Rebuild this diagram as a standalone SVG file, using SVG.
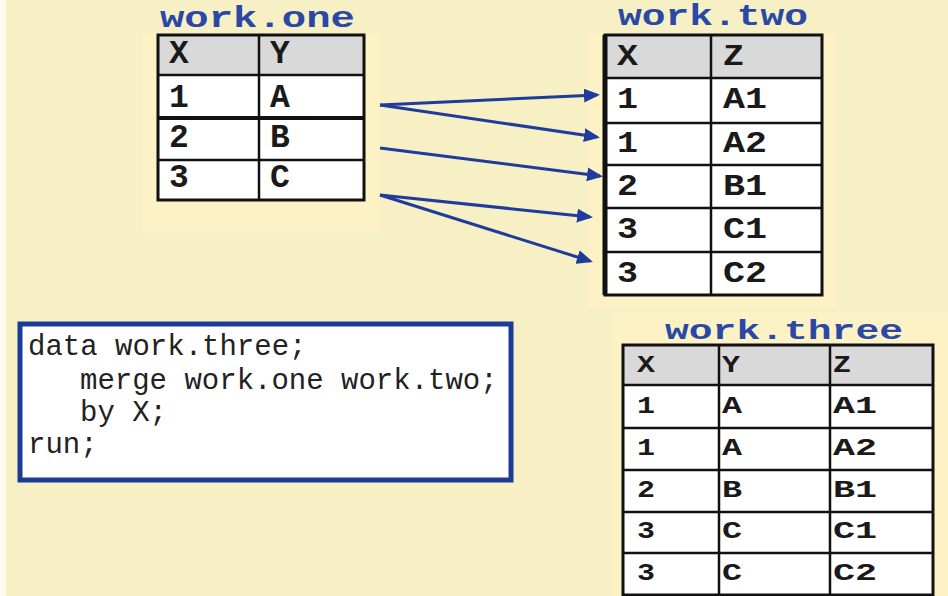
<svg xmlns="http://www.w3.org/2000/svg" width="948" height="596" viewBox="0 0 948 596">
<style>
.bg{fill:#f7f0c5}
.panel{fill:#fcf2c6}
.title{font-family:"Liberation Mono",monospace;font-weight:bold;fill:#2a48a6}
.cell{fill:#ffffff}
.hdr{fill:#d9d9d9}
.grid{stroke:#111;stroke-width:2.5;fill:none}
.outer{stroke:#111;stroke-width:3;fill:none}
.t1{font-family:"Liberation Mono",monospace;font-size:33px;fill:#1a1a1a;font-weight:bold}
.t2{font-family:"Liberation Mono",monospace;font-size:29px;fill:#1a1a1a;font-weight:bold}
.t3{font-family:"Liberation Mono",monospace;font-size:24px;fill:#1a1a1a;font-weight:bold}
.code{font-family:"Liberation Mono",monospace;font-size:29px;fill:#222}
.arrow{stroke:#1f3c9c;stroke-width:3;fill:none;marker-end:url(#ah)}
</style>
<defs>
<marker id="ah" markerUnits="userSpaceOnUse" markerWidth="16" markerHeight="14" refX="13" refY="7" orient="auto">
<path d="M0,0 L16,7 L0,14 z" fill="#1f3c9c"/>
</marker>
</defs>
<rect class="bg" x="0" y="0" width="948" height="596"/>
<rect x="0" y="0" width="6" height="596" fill="#fdfbee"/>
<rect class="panel" x="143" y="33" width="237" height="200"/>
<rect class="panel" x="588" y="33" width="248" height="274"/>
<rect class="panel" x="612" y="312" width="336" height="284"/>

<g id="work-one">
<text class="title" x="160" y="27" font-size="30" textLength="195" lengthAdjust="spacingAndGlyphs">work.one</text>
<rect class="cell" x="158" y="35" width="206" height="165"/>
<rect class="hdr" x="158" y="35" width="206" height="40"/>
<path class="grid" d="M158,75H364M158,160H364M259,35V200"/>
<path d="M158,118H364" stroke="#111" stroke-width="4"/>
<rect class="outer" x="158" y="35" width="206" height="165"/>
<text class="t1" x="169" y="63">X</text><text class="t1" x="270" y="63">Y</text>
<text class="t1" x="169" y="107">1</text><text class="t1" x="270" y="107">A</text>
<text class="t1" x="169" y="147">2</text><text class="t1" x="270" y="147">B</text>
<text class="t1" x="169" y="187">3</text><text class="t1" x="270" y="187">C</text>
</g>

<g id="work-two">
<text class="title" x="618" y="25" font-size="30" textLength="190" lengthAdjust="spacingAndGlyphs">work.two</text>
<rect class="cell" x="605" y="35" width="217" height="260"/>
<rect class="hdr" x="605" y="35" width="217" height="43"/>
<path class="grid" d="M605,78H822M605,123H822M605,165H822M605,208H822M605,252H822M711,35V295"/>
<rect class="outer" x="605" y="35" width="217" height="260"/>
<path d="M605,35V295" stroke="#111" stroke-width="5"/>
<text class="t2" x="617" y="65" textLength="21" lengthAdjust="spacingAndGlyphs">X</text><text class="t2" x="723" y="65" textLength="21" lengthAdjust="spacingAndGlyphs">Z</text>
<text class="t2" x="617" y="108" textLength="21" lengthAdjust="spacingAndGlyphs">1</text><text class="t2" x="723" y="108" textLength="44" lengthAdjust="spacingAndGlyphs">A1</text>
<text class="t2" x="617" y="152" textLength="21" lengthAdjust="spacingAndGlyphs">1</text><text class="t2" x="723" y="152" textLength="44" lengthAdjust="spacingAndGlyphs">A2</text>
<text class="t2" x="617" y="195" textLength="21" lengthAdjust="spacingAndGlyphs">2</text><text class="t2" x="723" y="195" textLength="44" lengthAdjust="spacingAndGlyphs">B1</text>
<text class="t2" x="617" y="238" textLength="21" lengthAdjust="spacingAndGlyphs">3</text><text class="t2" x="723" y="238" textLength="44" lengthAdjust="spacingAndGlyphs">C1</text>
<text class="t2" x="617" y="282" textLength="21" lengthAdjust="spacingAndGlyphs">3</text><text class="t2" x="723" y="282" textLength="44" lengthAdjust="spacingAndGlyphs">C2</text>
</g>

<g id="connectors">
<line class="arrow" x1="380" y1="105" x2="597" y2="95"/>
<line class="arrow" x1="380" y1="105" x2="597" y2="137"/>
<line class="arrow" x1="380" y1="148" x2="600" y2="176"/>
<line class="arrow" x1="380" y1="195" x2="590" y2="217"/>
<line class="arrow" x1="380" y1="195" x2="590" y2="261"/>
</g>

<g id="code">
<rect x="20" y="324" width="491" height="156" fill="#ffffff" stroke="#1c3a98" stroke-width="5"/>
<text class="code" x="28" y="355">data work.three;</text>
<text class="code" x="80" y="389">merge work.one work.two;</text>
<text class="code" x="80" y="421">by X;</text>
<text class="code" x="28" y="453">run;</text>
</g>

<g id="work-three">
<text class="title" x="665" y="339" font-size="27" textLength="238" lengthAdjust="spacingAndGlyphs">work.three</text>
<rect class="cell" x="623" y="345" width="310" height="250"/>
<rect class="hdr" x="623" y="345" width="310" height="40"/>
<path class="grid" d="M623,385H933M623,428H933M623,470H933M623,512H933M623,553H933M719,345V595M830,345V595"/>
<rect class="outer" x="623" y="345" width="310" height="250"/>
<text class="t3" x="637" y="372" textLength="18" lengthAdjust="spacingAndGlyphs">X</text><text class="t3" x="722" y="372" textLength="18" lengthAdjust="spacingAndGlyphs">Y</text><text class="t3" x="833" y="372" textLength="18" lengthAdjust="spacingAndGlyphs">Z</text>
<text class="t3" x="637" y="413" textLength="18" lengthAdjust="spacingAndGlyphs">1</text><text class="t3" x="722" y="413" textLength="20" lengthAdjust="spacingAndGlyphs">A</text><text class="t3" x="833" y="413" textLength="44" lengthAdjust="spacingAndGlyphs">A1</text>
<text class="t3" x="637" y="455" textLength="18" lengthAdjust="spacingAndGlyphs">1</text><text class="t3" x="722" y="455" textLength="20" lengthAdjust="spacingAndGlyphs">A</text><text class="t3" x="833" y="455" textLength="44" lengthAdjust="spacingAndGlyphs">A2</text>
<text class="t3" x="637" y="497" textLength="18" lengthAdjust="spacingAndGlyphs">2</text><text class="t3" x="722" y="497" textLength="20" lengthAdjust="spacingAndGlyphs">B</text><text class="t3" x="833" y="497" textLength="44" lengthAdjust="spacingAndGlyphs">B1</text>
<text class="t3" x="637" y="538" textLength="18" lengthAdjust="spacingAndGlyphs">3</text><text class="t3" x="722" y="538" textLength="20" lengthAdjust="spacingAndGlyphs">C</text><text class="t3" x="833" y="538" textLength="44" lengthAdjust="spacingAndGlyphs">C1</text>
<text class="t3" x="637" y="580" textLength="18" lengthAdjust="spacingAndGlyphs">3</text><text class="t3" x="722" y="580" textLength="20" lengthAdjust="spacingAndGlyphs">C</text><text class="t3" x="833" y="580" textLength="44" lengthAdjust="spacingAndGlyphs">C2</text>
</g>
</svg>
